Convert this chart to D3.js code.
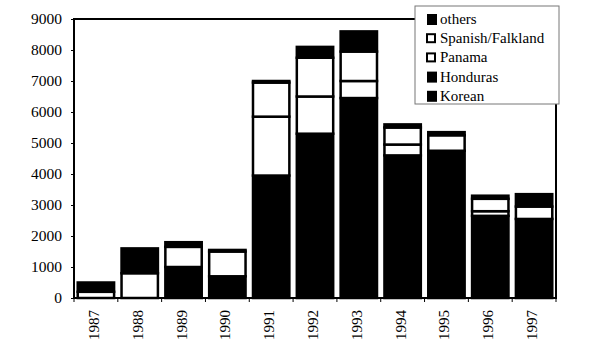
<!DOCTYPE html>
<html>
<head>
<meta charset="utf-8">
<script src="https://cdn.jsdelivr.net/npm/d3@7"></script>
<style>
  body { margin: 0; background: #fff; }
  svg text { font-family: "Liberation Serif", "DejaVu Serif", serif !important; fill: #000; }
</style>
</head>
<body>
<div id="chart"></div>
<script>
const width = 600;
const height = 362;
const margin = { top: 19, right: 44, bottom: 64, left: 74 };
const serif = "'Liberation Serif', 'DejaVu Serif', serif";

const years = ["1987", "1988", "1989", "1990", "1991", "1992", "1993", "1994", "1995", "1996", "1997"];
const korean   = [0, 0, 1000, 700, 3950, 5300, 6450, 4600, 4750, 2650, 2550];
const honduras = [0, 0, 0, 0, 0, 0, 0, 0, 0, 0, 0];
const panama   = [200, 800, 650, 800, 1900, 1200, 550, 350, 500, 150, 400];
const spanish  = [0, 0, 0, 0, 1100, 1250, 950, 550, 0, 400, 0];
const others   = [300, 800, 150, 50, 50, 350, 650, 100, 100, 100, 400];
const yTicks = [0, 1000, 2000, 3000, 4000, 5000, 6000, 7000, 8000, 9000];

const keys = ["Korean", "Honduras", "Panama", "Spanish/Falkland", "others"];
const fills = { "Korean": "#000", "Honduras": "#000", "Panama": "#fff", "Spanish/Falkland": "#fff", "others": "#000" };

const rows = years.map((yr, i) => ({
  year: yr,
  "Korean": korean[i],
  "Honduras": honduras[i],
  "Panama": panama[i],
  "Spanish/Falkland": spanish[i],
  "others": others[i]
}));

const svg = d3.select("#chart").append("svg")
  .attr("width", width)
  .attr("height", height)
  .attr("font-family", serif);

const x = d3.scaleBand()
  .domain(years)
  .range([margin.left, width - margin.right])
  .paddingInner(0.17)
  .paddingOuter(0.085);

const y = d3.scaleLinear()
  .domain([0, 9000])
  .range([height - margin.bottom, margin.top]);

const series = d3.stack().keys(keys)(rows);

// bars
svg.append("g")
  .selectAll("g")
  .data(series)
  .join("g")
  .attr("fill", d => fills[d.key])
  .selectAll("rect")
  .data(d => d.filter(s => s[1] - s[0] > 0))
  .join("rect")
  .attr("x", d => x(d.data.year))
  .attr("width", x.bandwidth())
  .attr("y", d => y(d[1]))
  .attr("height", d => y(d[0]) - y(d[1]))
  .attr("stroke", "#000")
  .attr("stroke-width", 2.5);

// frame
svg.append("rect")
  .attr("x", margin.left)
  .attr("y", margin.top)
  .attr("width", width - margin.left - margin.right)
  .attr("height", height - margin.top - margin.bottom)
  .attr("fill", "none")
  .attr("stroke", "#000")
  .attr("stroke-width", 2);

// y axis
const yAxis = d3.axisLeft(y).tickValues(yTicks).tickFormat(d3.format("d")).tickSize(3).tickPadding(9);
svg.append("g")
  .attr("transform", `translate(${margin.left},0)`)
  .call(yAxis)
  .attr("font-family", serif)
  .call(g => g.select(".domain").remove())
  .call(g => g.selectAll("line").attr("stroke", "#000").attr("stroke-width", 1))
  .call(g => g.selectAll("text").style("font-size", "15.5px").style("font-family", serif));

// x axis: ticks at band boundaries, labels rotated
const xg = svg.append("g").attr("transform", `translate(0,${height - margin.bottom})`);
const bounds = d3.range(years.length + 1).map(i => x.range()[0] + i * x.step());
xg.selectAll("line")
  .data(bounds)
  .join("line")
  .attr("x1", d => d).attr("x2", d => d)
  .attr("y1", 0).attr("y2", 4)
  .attr("stroke", "#000");
xg.selectAll("text")
  .data(years)
  .join("text")
  .attr("transform", d => `translate(${x(d) + x.bandwidth() / 2 + 3},12) rotate(-90)`)
  .attr("text-anchor", "end")
  .style("font-size", "15px")
  .style("font-family", serif)
  .text(d => d);

// legend
const legendKeys = keys.slice().reverse();
const legend = svg.append("g").attr("transform", "translate(415,6)");
legend.append("rect")
  .attr("width", 144)
  .attr("height", 98)
  .attr("fill", "#fff")
  .attr("stroke", "#777")
  .attr("stroke-width", 1);
const item = legend.selectAll("g.item")
  .data(legendKeys)
  .join("g")
  .attr("class", "item")
  .attr("transform", (d, i) => `translate(0,${8 + i * 19.2})`);
item.append("rect")
  .attr("x", 12)
  .attr("y", d => fills[d] === "#000" ? 0 : 1)
  .attr("width", d => fills[d] === "#000" ? 10 : 8)
  .attr("height", d => fills[d] === "#000" ? 11 : 8)
  .attr("fill", d => fills[d])
  .attr("stroke", "#000")
  .attr("stroke-width", d => fills[d] === "#000" ? 0 : 2);
item.append("text")
  .attr("x", 25)
  .attr("y", 10)
  .style("font-size", "15px")
  .style("font-family", serif)
  .text(d => d);
</script>
</body>
</html>
